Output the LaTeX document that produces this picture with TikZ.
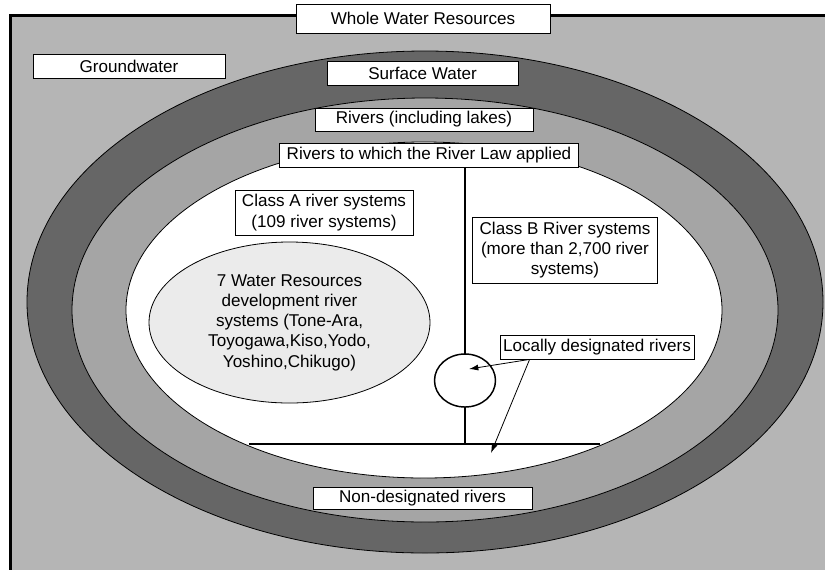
\documentclass[tikz,border=0pt]{standalone}
\usepackage{fontspec}
\setmainfont{Liberation Sans}
\usetikzlibrary{arrows.meta,shapes.geometric}

\newcommand\boxfont{\fontsize{12.8}{15.2}\selectfont}
\tikzset{every picture/.style={line width=0.75pt}}
\tikzset{
  box/.style={draw, fill=white, line width=0.6pt, inner sep=0pt, align=center, font=\boxfont},
  stem/.style={line width=1.5pt},
  pointer/.style={line width=0.6pt, -{Latex[length=7pt,width=4.5pt]}}
}

\begin{document}
\begin{tikzpicture}[x=0.75pt,y=0.75pt,yscale=-1,xscale=1]
\clip (0,0) rectangle (825,569);

%Shape: Rectangle [whole water resources]
\draw [line width=2.25pt, fill={rgb, 255:red, 181; green, 181; blue, 181 }] (10,15) rectangle (860,610);
%Shape: Ellipse [surface water]
\draw [line width=0.6pt, fill={rgb, 255:red, 102; green, 102; blue, 102 }] (425,302) ellipse (398 and 251);
%Shape: Ellipse [rivers]
\draw [line width=0.6pt, fill={rgb, 255:red, 165; green, 165; blue, 165 }] (425,310) ellipse (353 and 212);
%Shape: Ellipse [river law]
\draw [line width=0.6pt, fill=white] (424,310) ellipse (298 and 168);

%Straight Lines [class A / class B split]
\coordinate (hl) at (249,444);
\coordinate (hr) at (600,444);
\coordinate (vb) at (465,444);
\draw [stem] (hl) -- (hr);

% Text Node
\draw (423,18.5) node [box, minimum width=190.5pt, minimum height=21.75pt] (whole) {Whole Water Resources};
% Text Node
\draw (129,66) node [box, minimum width=144pt, minimum height=18pt] (ground) {Groundwater};
% Text Node
\draw (422.5,73) node [box, minimum width=143.25pt, minimum height=18pt] (surface) {Surface Water};
% Text Node
\draw (424,119.5) node [box, minimum width=163.5pt, minimum height=17.25pt] (rivers) {Rivers (including lakes)};
% Text Node
\draw (429,155) node [box, minimum width=224pt, minimum height=18pt] (law) {Rivers to which the River Law applied};
% Text Node
\draw (324,212.5) node [box, minimum width=133.5pt, minimum height=33.75pt] (classA) {Class A river systems\\(109 river systems)};
% Text Node
\draw (565,250) node [box, minimum width=139pt, minimum height=49.5pt] (classB) {Class B River systems\\(more than 2,700 river\\systems)};
%Shape: Ellipse [water resources development]
\draw (289.5,322.5) node [ellipse, draw, line width=0.6pt, fill={rgb, 255:red, 235; green, 235; blue, 235 }, inner sep=0pt, minimum width=210.75pt, minimum height=120.75pt, align=center, font=\boxfont] (seven) {7 Water Resources\\development river\\systems (Tone-Ara,\\Toyogawa,Kiso,Yodo,\\Yoshino,Chikugo)};

\draw [stem] (law.south -| vb) -- (vb);
%Shape: Circle [local rivers]
\draw (465,380.5) node [ellipse, draw, line width=1.1pt, fill=white, minimum width=45.75pt, minimum height=39.75pt] (lcirc) {};

% Text Node
\draw (597,347) node [box, minimum width=145.5pt, minimum height=18pt] (local) {Locally designated rivers};
% Text Node
\draw (422.5,498) node [box, minimum width=164.25pt, minimum height=16.5pt] (nondes) {Non-designated rivers};

%Straight Lines [pointers]
\coordinate (ctip) at (469,369);
\coordinate (ntip) at (491,453);
\draw [pointer] ([xshift=22.5pt]local.south west) -- (ctip);
\draw [pointer] ([xshift=22.5pt]local.south west) -- (ntip);

\end{tikzpicture}
\end{document}
